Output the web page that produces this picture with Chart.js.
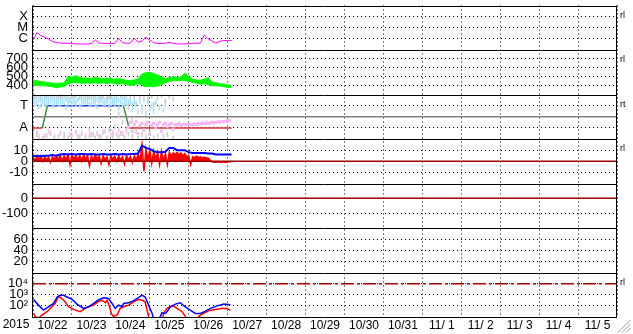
<!DOCTYPE html>
<html>
<head>
<meta charset="utf-8">
<script src="https://cdn.jsdelivr.net/npm/chart.js@4.4.0/dist/chart.umd.min.js"></script>
<style>
  html, body { margin: 0; padding: 0; background: #fff; }
</style>
</head>
<body>
<canvas id="chart" width="633" height="334"></canvas>
<script>
// x axis: days since 2015-10-22 00:00
const yearLabel = "2015";
const dayLabels = ["10/22", "10/23", "10/24", "10/25", "10/26", "10/27", "10/28", "10/29",
  "10/30", "10/31", "11/ 1", "11/ 2", "11/ 3", "11/ 4", "11/ 5"];
const sideTags = ["rl", "rl", "rt", "rl", "", "", "rl"];

// X-ray flux (W/m2), one sample every 0.1 day
const xrayFlux = [7.2e-7, 3.7e-6, 2.0e-6, 1.4e-6, 9.5e-7, 5.6e-7, 4.7e-7, 4.2e-7, 4.2e-7, 4.0e-7,
  3.8e-7, 3.5e-7, 3.5e-7, 3.4e-7, 3.5e-7, 3.8e-7, 7.9e-7, 4.2e-7, 4.0e-7, 3.8e-7,
  3.7e-7, 4.0e-7, 1.1e-6, 4.5e-7, 4.0e-7, 4.2e-7, 1.1e-6, 5.0e-7, 6.3e-7, 1.4e-6,
  7.9e-7, 4.5e-7, 4.0e-7, 3.8e-7, 4.0e-7, 5.0e-7, 4.0e-7, 3.5e-7, 3.5e-7, 3.5e-7,
  4.0e-7, 4.0e-7, 4.0e-7, 4.2e-7, 2.3e-6, 1.0e-6, 6.3e-7, 4.2e-7, 6.0e-7, 7.1e-7,
  7.2e-7, 7.2e-7];

// solar wind speed (km/s), upper and lower edge of the noisy trace, every 0.1 day
const speedHigh = [465, 455, 445, 440, 435, 430, 425, 428, 430, 505,
  495, 510, 490, 485, 485, 478, 495, 485, 478, 485,
  478, 472, 478, 472, 458, 458, 462, 478, 530, 545,
  550, 535, 520, 498, 478, 488, 500, 492, 498, 540,
  500, 472, 462, 462, 472, 490, 438, 432, 422, 418,
  408, 398];
const speedLow = [405, 402, 398, 398, 392, 388, 375, 385, 388, 420,
  430, 435, 430, 425, 432, 425, 435, 425, 432, 425,
  430, 425, 415, 425, 410, 405, 405, 425, 405, 385,
  395, 385, 395, 412, 435, 445, 458, 458, 458, 458,
  448, 435, 428, 415, 422, 412, 398, 398, 395, 388,
  378, 378];

// IMF sector: T = 1, A = -1; scatter of field angle samples, every 0.05 day
const sectorDays = [0, 0.24, 0.37, 2.32, 2.47, 5.1];
const sectorVals = [-1, -1, 1, 1, -1, -1];
const sectorZero = 0;
const cyanA = [1.6, 1.2, 1.8, 0.9, 1.5, 1.7, 1.1, 1.6, 1.3, 1.8,
  1.0, 1.5, 1.7, 1.2, 1.6, 1.4, 1.8, 0.8, 1.5, 1.6,
  1.2, 1.7, 1.4, 1.6, 1.0, 1.5, 1.8, 1.3, 1.6, 1.1,
  1.7, 1.4, 1.5, 0.9, 1.6, 1.8, 1.2, 1.5, 1.6, 1.0,
  1.7, 1.3, 1.5, 1.6, 0.8, 1.4, 1.7, 1.2, 1.5, 1.0,
  1.3, 0.6, 1.6, 1.1, 0.4, 1.4, 0.9, 1.5, 0.3, 1.2,
  0.7, 1.0, 0.5, 1.3, null, 0.8, null, 0.6, 1.1];
const cyanB = [1.2, 1.7, 1.3, 1.5, 1.0, 1.3, 1.6, 1.2, 1.7, 1.4,
  1.6, 1.2, 1.3, 1.6, 1.1, 1.8, 1.3, 1.6, 1.2, 1.4,
  1.7, 1.3, 1.1, 1.5, 1.7, 1.2, 1.4, 1.6, 1.3, 1.7,
  1.2, 1.8, 1.1, 1.6, 1.3, 1.5, 1.7, 1.2, 1.4, 1.6,
  1.2, 1.6, 1.1, 1.3, 1.5, 1.7, 1.1, 1.6, 1.2, 1.4,
  1.6, 1.1, 1.3];
const grayTop = [1.9, 1.8, null, 1.9, 1.85, null, 1.9, 1.8, 1.9, null,
  1.85, 1.9, null, 1.8, 1.9, 1.85, null, 1.9, 1.8, null,
  1.9, 1.85, 1.9, null, 1.8, 1.9, null, 1.85, 1.9, 1.8,
  null, 1.9, 1.85, null, 1.9, 1.8, 1.9, null, 1.85, 1.9,
  1.8, null, 1.9, 1.85, 0.2, 1.9, -0.5, 1.8, 1.9, 0.9,
  1.85, -0.3, 1.9, 1.2, null, 1.8, 0.5, 1.9, null, 1.6,
  null, 1.85, 1.1, null, 1.7, null, 1.9, null, 1.4, null,
  1.8, null, 1.6];
const grayLow = [-1.8, null, -1.6, null, null, -1.9, null, -1.7, null, -1.5,
  null, -1.9, null, -1.8, null, null, -1.6, null, -1.9, null,
  -1.7, null, null, -1.8, null, -1.5, null, -1.9, null, -1.7,
  null, -1.6, -1.9, null, -1.8, null, -1.4, null, -1.9, -1.2,
  null, -1.7, -0.9, null, -1.8, -1.5, null, -1.9, -1.1, -1.6,
  null, -1.8, null, -1.3, -1.9, null, -1.6, null, -1.8, null,
  -1.5, null, -1.9, null, -1.7, null, null, -1.8, null, -1.6,
  null, null, -1.9];
const pinkLow = [-1.6, null, -1.4, -1.8, null, null, -1.7, null, -1.3, null,
  null, -1.8, null, null, -1.5, null, -1.9, null, null, -1.6,
  null, null, -1.4, null, -1.8, null, null, -1.7, null, -1.2,
  -1.6, null, null, -1.5, null, -1.8, null, -1.3, null, null,
  -1.7, -1.4, null, -1.6, -1.2, null, -1.5, -1.8, -1.3];
const pinkBandStart = 2.45;
const pinkBand = [-0.9, -0.5, -1.3, -0.7, -0.4, -1.5, -0.8, -0.6, -1.2, -0.7,
  -0.5, -1.6, -0.8, -0.6, -1.0, -0.7, -0.5, -1.3, -0.7, -0.6,
  -0.9, -0.7, -0.6, -1.1, -0.7, -0.7, -0.6, -0.8, -0.7, -0.7,
  -0.7, -0.65, -0.7, -0.7, -0.65, -0.7, -0.6, -0.65, -0.6, -0.6,
  -0.55, -0.6, -0.55, -0.5, -0.55, -0.5, -0.45, -0.5, -0.4, -0.45,
  -0.4, -0.35, -0.35];

// IMF Bt (every 0.1 day) and Bz (every 0.05 day), nT
const btVals = [4.5, 5, 4.5, 5, 5, 5.5, 5, 6, 6.5, 6,
  6.5, 6, 6.5, 6.5, 6, 6.5, 6, 6, 6.5, 6,
  6, 6.5, 6, 6.5, 6, 6.5, 6.5, 7, 14, 12,
  11, 9, 8, 8, 8.5, 12, 12, 10, 10, 10,
  8, 7.5, 7.5, 7.5, 7.5, 7, 7, 6, 6, 6,
  6, 6];
const bzVals = [3, 1.5, 4, 2, 5, 0, 4, 1.5, 3.5, -1,
  4, 2, 5, 1.5, 5.5, 0, 5, 1.5, 6, -3,
  6, 2, 5, 1, 5.5, 0, 6, 2, 5, -4,
  5, 1, 6, 2, 5, -2, 5, 1.5, 4, -3,
  5, 2, 4.5, 0, 5, 1, 4, -2.5, 5, 1,
  4.5, -1, 5, 1.5, 6, 2, 15, -9, 11, 2,
  10, -2, 9, 2, 8, -3, 9, 1, 7, -3,
  8, 5, 7.5, 6, 8, 6, 7.5, 5, 7, 4,
  5, -3, 4, 3, 4.5, 3.5, 4, 3, 3.5, 3,
  3, 1, -0.5, -1, -1, -0.5, -1, -1, -0.5, -1,
  -0.5, -0.5, -0.5];
const bzZero = 0;

// Dst (nT) reference level only
const dstZero = 0;

// particle flux, blue and red traces
const electronDays = [0.015, 0.14, 0.27, 0.40, 0.53, 0.62, 0.70, 0.79, 0.87, 1.00,
  1.13, 1.30, 1.43, 1.56, 1.69, 1.81, 1.94, 2.03, 2.11, 2.20,
  2.29, 2.33, 2.46, 2.58, 2.71, 2.80, 2.88, 2.97, 3.06, 3.10,
  3.22, 3.27, 3.31, 3.40, 3.44, 3.53, 3.66, 3.78, 3.91, 4.04,
  4.17, 4.30, 4.43, 4.56, 4.73, 4.90, 5.07];
const electronFlux = [370, 117, 42, 83, 166, 630, 912, 900, 630, 400,
  145, 59, 83, 166, 370, 525, 457, 166, 59, 117,
  83, 166, 190, 280, 560, 910, 630, 117, 21, 6,
  6, 11, 24, 21, 30, 83, 145, 190, 83, 42,
  21, 21, 34, 59, 100, 145, 126];
const protonDays = [0.015, 0.06, 0.14, 0.23, 0.36, 0.49, 0.57, 0.66, 0.74, 0.83,
  0.91, 1.04, 1.21, 1.34, 1.43, 1.56, 1.69, 1.77, 1.86, 1.90,
  1.97, 2.01, 2.07, 2.16, 2.24, 2.33, 2.46, 2.58, 2.71, 2.80,
  2.88, 2.93, 2.97, 3.01, 3.32, 3.35, 3.44, 3.53, 3.61, 3.70,
  3.83, 3.91, 3.99, 4.19, 4.25, 4.38, 4.51, 4.68, 4.85, 4.98,
  5.07];
const protonFlux = [21, 11, 8, 15, 30, 83, 166, 740, 457, 229,
  83, 48, 30, 59, 83, 117, 263, 324, 190, 324,
  83, 21, 11, 15, 59, 83, 117, 229, 370, 324,
  229, 42, 11, 3, 3, 21, 59, 83, 100, 59,
  30, 12, 3, 3, 11, 21, 36, 48, 59, 59,
  42];
const fluxAlert = 1e4;

const fullSpan = [0, 15];

function sampled(vals, start, step) {
  return vals.map((v, i) => ({ x: start + i * step, y: v }));
}
function paired(xs, ys) {
  return xs.map((x, i) => ({ x: x, y: ys[i] }));
}
function level(v) {
  return fullSpan.map(x => ({ x: x, y: v }));
}

const tickFont = { family: "Liberation Sans", size: 13 };

// no extra room for tick labels that stick out past the panel edges
function noLabelPadding(s) {
  s.paddingTop = 0;
  s.paddingBottom = 0;
  s.paddingLeft = 0;
  s.paddingRight = 0;
}

function panelAxis(type, min, max, tickVals, labels) {
  return {
    type: type,
    position: "left",
    stack: "panels",
    stackWeight: 1,
    min: min,
    max: max,
    afterBuildTicks: s => { s.ticks = tickVals.map(v => ({ value: v })); },
    afterFit: s => { s.width = 33; noLabelPadding(s); },
    grid: { color: "#000", lineWidth: 1, drawTicks: false },
    border: { display: false, dash: [1, 3] },
    ticks: {
      color: "#000", padding: 5, font: tickFont, autoSkip: false,
      callback: (v, i) => labels[i]
    }
  };
}

const line = (data, axis, color, width, extra) => Object.assign({
  type: "line", data: data, yAxisID: axis, borderColor: color, borderWidth: width,
  pointRadius: 0, fill: false, tension: 0
}, extra || {});

const dots = (data, axis, color, style) => Object.assign({
  type: "line", data: data, yAxisID: axis, showLine: false,
  pointBorderColor: color, pointBackgroundColor: color
}, style);

const streak = { pointStyle: "line", rotation: 90, pointRadius: 2.5, pointBorderWidth: 1.5 };
const block = { pointStyle: "rect", pointRadius: 2.2, pointBorderWidth: 0 };

const panelClip = {
  id: "panelClip",
  beforeDatasetDraw(chart, args) {
    const ys = args.meta.yScale, a = chart.chartArea, ctx = chart.ctx;
    ctx.save();
    ctx.beginPath();
    ctx.rect(a.left, ys.top, a.right - a.left, ys.bottom - ys.top);
    ctx.clip();
  },
  afterDatasetDraw(chart) { chart.ctx.restore(); }
};

// top to bottom
const panelIds = ["yXray", "ySpeed", "ySector", "yField", "yDst", "yKp", "yFlux"];

const frame = {
  id: "frame",
  afterDraw(chart) {
    const { ctx, chartArea: a, scales } = chart;
    ctx.save();
    ctx.strokeStyle = "#000";
    ctx.lineWidth = 1;
    ctx.beginPath();
    panelIds.forEach(id => {
      const y = Math.round(scales[id].top) + 0.5;
      ctx.moveTo(a.left - 1, y);
      ctx.lineTo(a.right, y);
    });
    const yb = Math.round(a.bottom) + 0.5;
    ctx.moveTo(a.left - 1, yb); ctx.lineTo(a.right, yb);
    ctx.moveTo(a.left - 0.5, a.top); ctx.lineTo(a.left - 0.5, yb);
    ctx.moveTo(a.right - 0.5, a.top); ctx.lineTo(a.right - 0.5, yb);
    ctx.stroke();

    ctx.fillStyle = "#000";
    ctx.font = '9px "Liberation Sans"';
    ctx.textBaseline = "middle";
    ctx.textAlign = "left";
    panelIds.forEach((id, i) => {
      if (sideTags[i]) ctx.fillText(sideTags[i], a.right + 3, scales[id].top + 10);
    });

    ctx.font = '12px "Liberation Sans"';
    ctx.textAlign = "center";
    ctx.fillText(yearLabel, 16, 325);

    // window size grip
    ctx.strokeStyle = "#999";
    ctx.beginPath();
    [4, 8, 12].forEach(k => {
      ctx.moveTo(630 - k, 332.5); ctx.lineTo(630.5, 332 - k);
    });
    ctx.stroke();
    ctx.restore();
  }
};

const sectorColor = c => {
  const a = c.p0.parsed.y, b = c.p1.parsed.y;
  if (a !== b) return "#3c8c3c";
  return a > 0 ? "#2a3cd8" : "#d83030";
};

// stacked axes are laid out bottom-up, so list them bottom panel first
const yScales = {
  yFlux: panelAxis("logarithmic", 10, 1e5, [1e4, 1e3, 1e2], ["10\u2074", "10\u00b3", "10\u00b2"]),
  yKp: panelAxis("linear", 0, 80, [60, 40, 20], ["60", "40", "20"]),
  yDst: panelAxis("linear", -200, 100, [0, -100], ["0", "-100"]),
  yField: panelAxis("linear", -20, 20, [10, 0, -10], ["10", "0", "-10"]),
  ySector: panelAxis("linear", -2, 2, [1, -1], ["T", "A"]),
  ySpeed: panelAxis("linear", 300, 800, [700, 600, 500, 400], ["700", "600", "500", "400"]),
  yXray: panelAxis("logarithmic", 1e-7, 1e-3, [1e-4, 1e-5, 1e-6], ["X", "M", "C"])
};

new Chart(document.getElementById("chart"), {
  data: {
    datasets: [
      line(sampled(xrayFlux, 0, 0.1), "yXray", "#ff00ff", 1),

      line(sampled(speedLow, 0, 0.1), "ySpeed", "#00ff00", 1),
      line(sampled(speedHigh, 0, 0.1), "ySpeed", "#00ff00", 1, { fill: "-1", backgroundColor: "#00ff00" }),

      dots(sampled(grayTop, 0, 0.05), "ySector", "#cccccc", streak),
      dots(sampled(grayLow, 0, 0.05), "ySector", "#cccccc", streak),
      dots(sampled(cyanA, 0, 0.05), "ySector", "#a6e2fb", streak),
      dots(sampled(cyanB, 0, 0.05), "ySector", "#a6e2fb", streak),
      dots(sampled(pinkLow, 0, 0.05), "ySector", "#fbb6f1", streak),
      dots(sampled(pinkBand, pinkBandStart, 0.05), "ySector", "#fbb6f1", block),
      line(level(sectorZero), "ySector", "#808080", 1.5),
      line(paired(sectorDays, sectorVals), "ySector", "#2a3cd8", 1.5, { segment: { borderColor: sectorColor } }),

      line(level(bzZero), "yField", "#a00000", 1.5),
      line(sampled(btVals, 0, 0.1), "yField", "#0000ff", 2),
      line(sampled(bzVals, 0, 0.05), "yField", "#ff0000", 1.5, { fill: { value: bzZero }, backgroundColor: "#ff0000" }),

      line(level(dstZero), "yDst", "#a00000", 1.5),

      line(level(fluxAlert), "yFlux", "#a00000", 1.5, { borderDash: [13, 3, 3, 3] }),
      line(paired(electronDays, electronFlux), "yFlux", "#0000ff", 1.5),
      line(paired(protonDays, protonFlux), "yFlux", "#ff0000", 1.5)
    ]
  },
  options: {
    responsive: false,
    animation: false,
    devicePixelRatio: 1,
    layout: { padding: { top: 2, right: 16, left: 0, bottom: 0 } },
    plugins: { legend: { display: false }, tooltip: { enabled: false } },
    scales: Object.assign({
      x: {
        type: "linear",
        min: 0,
        max: 15,
        afterBuildTicks: s => { s.ticks = dayLabels.map((d, i) => ({ value: i })).concat([{ value: 15 }]); },
        afterFit: s => { s.height = 17; noLabelPadding(s); },
        grid: { color: "#000", lineWidth: 1, drawTicks: false },
        border: { display: false, dash: [1, 3] },
        ticks: {
          color: "#000", padding: 1, autoSkip: false, maxRotation: 0, labelOffset: 19.5,
          font: { family: "Liberation Sans", size: 12 },
          callback: (v, i) => dayLabels[i] || ""
        }
      }
    }, yScales)
  },
  plugins: [panelClip, frame]
});
</script>
</body>
</html>
